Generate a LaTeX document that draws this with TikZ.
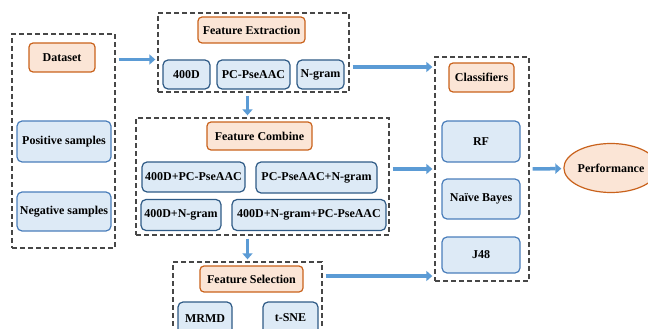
\documentclass[tikz,border=0pt]{standalone}
\usepackage{fontspec}
\setmainfont{Liberation Serif}
\usetikzlibrary{arrows.meta,shapes.geometric}
\definecolor{peach}{HTML}{FBE5D6}
\definecolor{rust}{HTML}{C9621C}
\definecolor{paleblue}{HTML}{DDEAF6}
\definecolor{navy}{HTML}{2F5B86}
\definecolor{steel}{HTML}{4A7EBB}
\definecolor{flowblue}{HTML}{5B9BD5}
\tikzset{
  headbox/.style={draw=rust, fill=peach, line width=1.2pt, rounded corners=4pt, inner sep=0pt, font=\bfseries\fontsize{12}{14}\selectfont},
  itembox/.style={draw=navy, fill=paleblue, line width=1.2pt, rounded corners=5pt, inner sep=0pt, font=\bfseries\fontsize{12}{14}\selectfont},
  softbox/.style={itembox, draw=steel},
  groupbox/.style={draw=black!72, line width=1.3pt, dash pattern=on 5pt off 3pt, inner sep=0pt},
  flowarrow/.style={draw=flowblue, line width=3.5pt, shorten <=3pt, shorten >=2pt, -{Triangle[length=6pt,width=10pt]}}
}
\begin{document}
\begin{tikzpicture}[x=1pt,y=-1pt]
\useasboundingbox (0,0) rectangle (648,329);
% dashed groups
\node[groupbox, minimum width=103, minimum height=214] at (63.5,141) (datagroup) {};
\node[groupbox, minimum width=191, minimum height=79] at (253.5,52.5) (extractgroup) {};
\node[groupbox, minimum width=253, minimum height=117] at (262.5,176.5) (combinegroup) {};
\node[groupbox, minimum width=149, minimum height=83] at (247.5,303.5) (selectgroup) {};
\node[groupbox, minimum width=94, minimum height=224] at (482,169) (classgroup) {};
% dataset
\node[headbox, minimum width=66, minimum height=29] at (62,57.5) (dataset) {Dataset};
\node[softbox, minimum width=94, minimum height=41] at (64,141.5) (positive) {Positive samples};
\node[softbox, minimum width=94, minimum height=39] at (64,211.5) (negative) {Negative samples};
% feature extraction
\node[headbox, minimum width=107, minimum height=26] at (251.5,30) (extract) {Feature Extraction};
\node[itembox, minimum width=47, minimum height=29] at (186.5,74.5) (fourhundred) {400D};
\node[itembox, minimum width=73, minimum height=29] at (253.5,74.5) (pcpse) {PC-PseAAC};
\node[itembox, minimum width=47, minimum height=29] at (320.5,74.5) (ngram) {N-gram};
% feature combine
\node[headbox, minimum width=105, minimum height=28] at (259.5,136) (combine) {Feature Combine};
\node[itembox, minimum width=103, minimum height=30] at (193.5,177) (comboa) {400D+PC-PseAAC};
\node[itembox, minimum width=121, minimum height=31] at (316.5,177.5) (combob) {PC-PseAAC+N-gram};
\node[itembox, minimum width=80, minimum height=31] at (181,215) (comboc) {400D+N-gram};
\node[itembox, minimum width=154, minimum height=31] at (309,215) (combod) {400D+N-gram+PC-PseAAC};
% feature selection
\node[headbox, minimum width=103, minimum height=26] at (251.5,279) (select) {Feature Selection};
\node[itembox, minimum width=54, minimum height=34] at (205,319) (mrmd) {MRMD};
\node[itembox, minimum width=55, minimum height=32] at (290.5,318) (tsne) {t-SNE};
% classifiers
\node[headbox, minimum width=65, minimum height=29] at (481.5,77.5) (classify) {Classifiers};
\node[softbox, minimum width=78, minimum height=41] at (481,141.5) (rf) {RF};
\node[softbox, minimum width=78, minimum height=40] at (481,199) (bayes) {Naïve Bayes};
\node[softbox, minimum width=78, minimum height=36] at (481,255) (jfour) {J48};
\node[headbox, ellipse, minimum width=72, minimum height=49] at (611,168) (perform) {Performance};
% arrows
\draw[flowarrow] ([yshift=-2pt]dataset -| datagroup.east) -- ([yshift=-2pt]dataset -| extractgroup.west);
\draw[flowarrow] ([xshift=-4pt]extractgroup.south -| extract) -- ([xshift=-4pt]combinegroup.north -| extract);
\draw[flowarrow] ([xshift=-4pt]combinegroup.south -| select) -- ([xshift=-4pt]selectgroup.north -| select);
\draw[flowarrow] ([yshift=-14.5pt]extractgroup.east) -- ([yshift=-14.5pt]extractgroup.east -| classgroup.west);
\draw[flowarrow] (classgroup.west -| combinegroup.east) -- (classgroup.west);
\draw[flowarrow] ([yshift=3pt]select -| selectgroup.east) -- ([yshift=3pt]select -| classgroup.west);
\draw[flowarrow] (classgroup.east) -- (perform);
\end{tikzpicture}
\end{document}
